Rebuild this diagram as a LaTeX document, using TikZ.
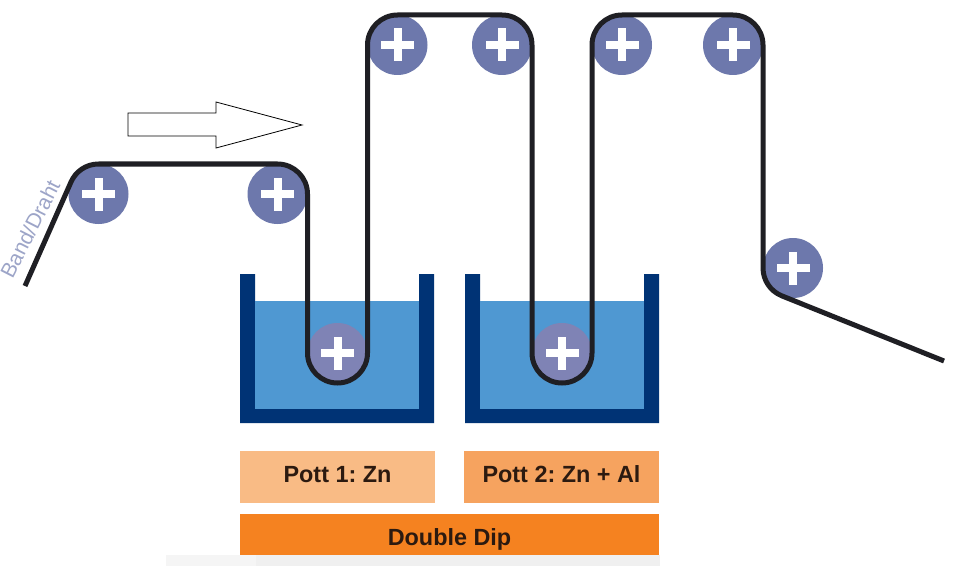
\documentclass[tikz,border=0pt]{standalone}
\usepackage{fontspec}
\setmainfont{Liberation Sans}
\usetikzlibrary{calc}
\definecolor{navy}{HTML}{003375}
\definecolor{zinc}{HTML}{4F98D2}
\definecolor{rollerblue}{HTML}{6D78AC}
\definecolor{rollerbath}{HTML}{7F83B5}
\definecolor{bandblack}{HTML}{1F1F24}
\definecolor{potA}{HTML}{F9BB85}
\definecolor{potB}{HTML}{F6A35F}
\definecolor{dip}{HTML}{F58220}
\definecolor{labeltext}{HTML}{2C1A10}
\definecolor{bandlabel}{HTML}{9DA5C8}
\tikzset{
  x=1pt,y=1pt,
  roller/.style={circle,fill=rollerblue,inner sep=0pt,minimum size=60pt,
    path picture={
      \fill[white] ($(path picture bounding box.center)+(-16.5,-4)$) rectangle ++(33,8);
      \fill[white] ($(path picture bounding box.center)+(-4,-16.5)$) rectangle ++(8,33);
    }},
  band/.style={draw=bandblack,line width=5pt,line join=round},
  potlabel/.style={inner sep=0pt,minimum height=52pt,minimum width=195pt,
    text height=31.7pt,text depth=20.3pt,
    text=labeltext,font=\bfseries\fontsize{23.4}{26}\selectfont},
}
\frenchspacing
\begin{document}
\begin{tikzpicture}
\useasboundingbox (0,0) rectangle (968,566);
\fill[white] (0,0) rectangle (968,566);
% bottom strip
\fill[black!6] (256,0) rectangle (660,11);
\fill[black!4] (166,0) rectangle (256,11);
% tanks
\foreach \xx in {240,465}{
  \fill[navy] (\xx,292) -- (\xx,143) -- ++(194,0) -- ++(0,149) -- ++(-15,0) -- ++(0,-135) -- ++(-164,0) -- ++(0,135) -- cycle;
  \fill[zinc] (\xx+15,157) rectangle ++(164,108);
}
% rollers
\node[roller] (r1) at (98.5,372) {};
\node[roller] (r2) at (277.5,372) {};
\node[roller] (r3) at (397.5,521) {};
\node[roller] (r4) at (502,521) {};
\node[roller] (r5) at (622,521) {};
\node[roller] (r6) at (733,521) {};
\node[roller] (r7) at (793,298) {};
\node[roller,fill=rollerbath] (p1) at (337.5,213) {};
\node[roller,fill=rollerbath] (p2) at (562,213) {};
% band
\coordinate (bandstart) at (25,280);
\coordinate (bandend) at (944,205);
\draw[band] (bandstart) -- ($(r1)+(157:30)$) arc[start angle=157,end angle=90,radius=30]
  -- ($(r2)+(90:30)$) arc[start angle=90,end angle=0,radius=30]
  -- ($(p1)+(180:30)$) arc[start angle=180,end angle=360,radius=30]
  -- ($(r3)+(180:30)$) arc[start angle=180,end angle=90,radius=30]
  -- ($(r4)+(90:30)$) arc[start angle=90,end angle=0,radius=30]
  -- ($(p2)+(180:30)$) arc[start angle=180,end angle=360,radius=30]
  -- ($(r5)+(180:30)$) arc[start angle=180,end angle=90,radius=30]
  -- ($(r6)+(90:30)$) arc[start angle=90,end angle=0,radius=30]
  -- ($(r7)+(180:30)$) arc[start angle=180,end angle=248,radius=30]
  -- (bandend);
% direction arrow
\draw[black,line width=0.8pt,line join=miter,fill=white]
  (128,453) -- (216,453) -- (216,464) -- (302,441) -- (216,418) -- (216,430) -- (128,430) -- cycle;
% labels
\node[rotate=63,text=bandlabel,font=\fontsize{21}{24}\selectfont,inner sep=0pt] (bandlbl) at (30,337) {Band/Draht};
\node[potlabel,fill=potA] (pot1) at (337.5,89) {Pott 1: Zn};
\node[potlabel,fill=potB] (pot2) at (561.5,89) {Pott 2: Zn + Al};
\node[potlabel,fill=dip,minimum height=41pt,text height=31.7pt,text depth=9.3pt,minimum width=419pt] (ddip) at (449.5,31.5) {Double Dip};
\end{tikzpicture}
\end{document}
